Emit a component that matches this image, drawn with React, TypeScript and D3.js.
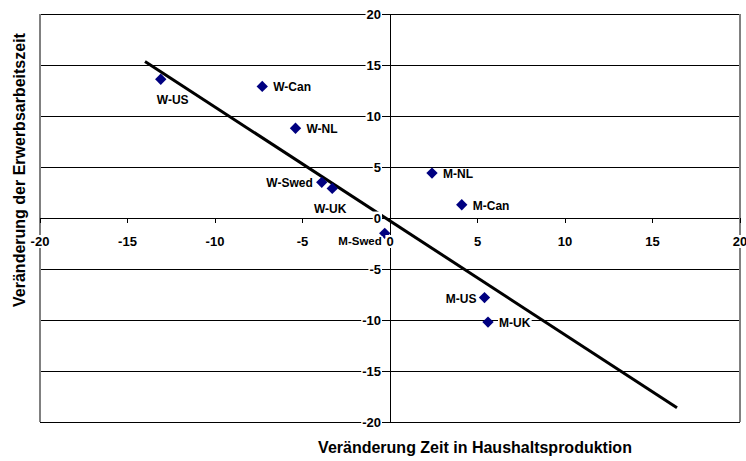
import React, { useEffect, useRef } from 'react';
import * as d3 from 'd3';

// scatter points: change in household production time vs. change in paid working time
const pointLabels = ['W-US', 'W-Can', 'W-NL', 'W-Swed', 'W-UK', 'M-NL', 'M-Can', 'M-US', 'M-UK', 'M-Swed'];
const xValues = [-13.1, -7.3, -5.4, -3.9, -3.3, 2.4, 4.1, 5.4, 5.6, -0.3];
const yValues = [13.6, 12.9, 8.8, 3.5, 2.9, 4.4, 1.3, -7.8, -10.2, -1.5];

// linear trend line endpoints
const trendX = [-14.0, 16.4];
const trendY = [15.35, -18.6];

const xTicks = [-20, -15, -10, -5, 0, 5, 10, 15, 20];
const yTicks = [-20, -15, -10, -5, 0, 5, 10, 15, 20];

const xTitle = 'Veränderung Zeit in Haushaltsproduktion';
const yTitle = 'Veränderung der Erwerbsarbeitszeit';

// where each label sits relative to its marker
const labelPlacement: Record<string, { dx: number; dy: number; anchor: string; size?: number }> = {
  'W-US': { dx: 12, dy: 25, anchor: 'middle' },
  'W-Can': { dx: 11, dy: 5, anchor: 'start' },
  'W-NL': { dx: 11, dy: 5, anchor: 'start' },
  'W-Swed': { dx: -9, dy: 5, anchor: 'end' },
  'W-UK': { dx: -2, dy: 25, anchor: 'middle' },
  'M-NL': { dx: 11, dy: 5, anchor: 'start' },
  'M-Can': { dx: 11, dy: 5, anchor: 'start' },
  'M-US': { dx: -8, dy: 5, anchor: 'end' },
  'M-UK': { dx: 11, dy: 5, anchor: 'start' },
  'M-Swed': { dx: -3, dy: 12, anchor: 'end', size: 11.5 },
};

export default function App() {
  const svgRef = useRef<SVGSVGElement>(null);

  useEffect(() => {
    document.body.style.margin = '0';
    const svg = d3.select(svgRef.current);
    svg.selectAll('*').remove();

    const x = d3.scaleLinear().domain([-20, 20]).range([40, 740]);
    const y = d3.scaleLinear().domain([-20, 20]).range([422, 14]);
    const font = 'Arial, "Liberation Sans", sans-serif';

    // white box behind a text node
    const addBg = (node: SVGTextElement) => {
      const b = node.getBBox();
      d3.select(node.parentNode as SVGGElement)
        .insert('rect', () => node)
        .attr('x', b.x - 1)
        .attr('y', b.y + 1)
        .attr('width', b.width + 2)
        .attr('height', b.height - 2)
        .attr('fill', '#fff');
    };

    // horizontal gridlines
    svg.append('g')
      .selectAll('line')
      .data(yTicks)
      .enter()
      .append('line')
      .attr('x1', x(-20))
      .attr('x2', x(20))
      .attr('y1', (d) => y(d))
      .attr('y2', (d) => y(d))
      .attr('stroke', '#000')
      .attr('stroke-width', 1)
      .attr('shape-rendering', 'crispEdges');

    // left / right borders
    svg.append('g')
      .selectAll('line')
      .data([-20, 20])
      .enter()
      .append('line')
      .attr('x1', (d) => x(d))
      .attr('x2', (d) => x(d))
      .attr('y1', y(20))
      .attr('y2', y(-20))
      .attr('stroke', '#808080')
      .attr('stroke-width', 1.5)
      .attr('shape-rendering', 'crispEdges');

    // vertical axis through 0
    svg.append('line')
      .attr('x1', x(0))
      .attr('x2', x(0))
      .attr('y1', y(20))
      .attr('y2', y(-20))
      .attr('stroke', '#000')
      .attr('shape-rendering', 'crispEdges');

    // x ticks hanging below the zero line
    svg.append('g')
      .selectAll('line')
      .data(xTicks)
      .enter()
      .append('line')
      .attr('x1', (d) => x(d))
      .attr('x2', (d) => x(d))
      .attr('y1', y(0))
      .attr('y2', y(0) + 5)
      .attr('stroke', '#000')
      .attr('shape-rendering', 'crispEdges');

    // trend line
    svg.append('line')
      .attr('x1', x(trendX[0]))
      .attr('y1', y(trendY[0]))
      .attr('x2', x(trendX[1]))
      .attr('y2', y(trendY[1]))
      .attr('stroke', '#000')
      .attr('stroke-width', 3);

    // markers
    const diamond = d3.symbol().type(d3.symbolSquare).size(64);
    svg.append('g')
      .selectAll('path')
      .data(pointLabels)
      .enter()
      .append('path')
      .attr('d', diamond)
      .attr('transform', (_, i) => `translate(${x(xValues[i])},${y(yValues[i])}) rotate(45)`)
      .attr('fill', '#000080');

    // tick labels
    const yLab = svg.append('g');
    yTicks.forEach((t) => {
      const node = yLab.append('text')
        .attr('x', x(0) - 9)
        .attr('y', y(t))
        .attr('dy', '0.35em')
        .attr('text-anchor', 'end')
        .attr('font-family', font)
        .attr('font-size', 13)
        .attr('font-weight', 'bold')
        .text(String(t))
        .node() as SVGTextElement;
      addBg(node);
    });

    const xLab = svg.append('g');
    xTicks.forEach((t) => {
      const node = xLab.append('text')
        .attr('x', x(t))
        .attr('y', y(0) + 28)
        .attr('text-anchor', 'middle')
        .attr('font-family', font)
        .attr('font-size', 13)
        .attr('font-weight', 'bold')
        .text(String(t))
        .node() as SVGTextElement;
      addBg(node);
    });

    // point labels
    const pLab = svg.append('g');
    pointLabels.forEach((name, i) => {
      const p = labelPlacement[name];
      const node = pLab.append('text')
        .attr('x', x(xValues[i]) + p.dx)
        .attr('y', y(yValues[i]) + p.dy)
        .attr('text-anchor', p.anchor)
        .attr('font-family', font)
        .attr('font-size', p.size || 12)
        .attr('font-weight', 'bold')
        .text(name)
        .node() as SVGTextElement;
      addBg(node);
    });

    // axis titles
    svg.append('text')
      .attr('x', 475)
      .attr('y', 453)
      .attr('text-anchor', 'middle')
      .attr('font-family', font)
      .attr('font-size', 16)
      .attr('font-weight', 'bold')
      .text(xTitle);

    svg.append('text')
      .attr('transform', 'translate(25,170) rotate(-90)')
      .attr('text-anchor', 'middle')
      .attr('font-family', font)
      .attr('font-size', 16)
      .attr('font-weight', 'bold')
      .text(yTitle);
  }, []);

  return <svg ref={svgRef} width={746} height={461} style={{ display: 'block', background: '#fff' }} />;
}
